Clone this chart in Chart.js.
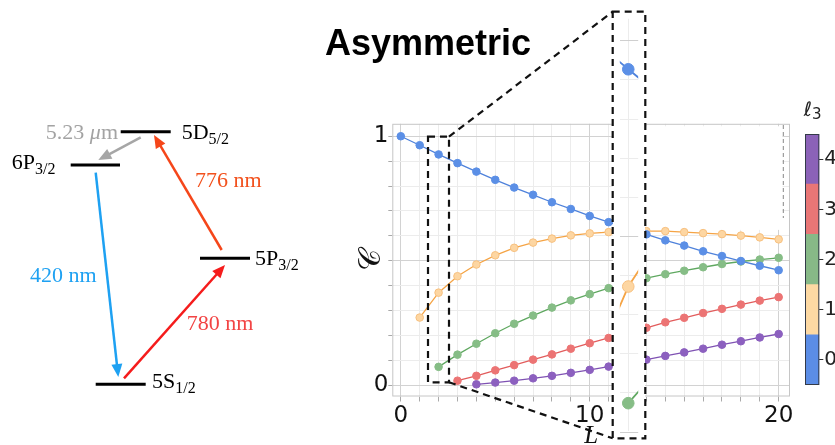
<!DOCTYPE html>
<html>
<head>
<meta charset="utf-8">
<script src="https://cdn.jsdelivr.net/npm/chart.js@4.4.1/dist/chart.umd.min.js"></script>
<style>
html, body { margin: 0; padding: 0; background: #fff; }
body { width: 835px; height: 445px; position: relative; overflow: hidden; }
canvas, svg { position: absolute; }
#mainChart { left: 340px; top: 110px; }
#zoomChart { left: 613px; top: 12px; background: #fff; }
#barChart { left: 800px; top: 121px; }
#overlay { left: 0; top: 0; pointer-events: none; }
</style>
</head>
<body>
<canvas id="mainChart" width="455" height="345"></canvas>
<canvas id="zoomChart" width="32" height="426"></canvas>
<canvas id="barChart" width="60" height="277"></canvas>

<svg id="overlay" width="835" height="445" xmlns="http://www.w3.org/2000/svg">
  <!-- title -->
  <text x="325" y="55" font-family="Liberation Sans" font-weight="bold" font-size="36" fill="#000">Asymmetric</text>

  <!-- level scheme -->
  <g stroke="#000" stroke-width="3">
    <line x1="120.7" y1="131.7" x2="170.7" y2="131.7"/>
    <line x1="70.7" y1="165" x2="120" y2="165"/>
    <line x1="200" y1="258.3" x2="250" y2="258.3"/>
    <line x1="95.7" y1="384.3" x2="145.7" y2="384.3"/>
  </g>
  <g id="arrows"></g>
  <g font-family="Liberation Serif" font-size="22" fill="#000">
    <text x="181.7" y="138.5">5D<tspan font-size="16" dy="5">5/2</tspan></text>
    <text x="11.7" y="168.5">6P<tspan font-size="16" dy="5">3/2</tspan></text>
    <text x="255" y="265">5P<tspan font-size="16" dy="5">3/2</tspan></text>
    <text x="152" y="388">5S<tspan font-size="16" dy="5">1/2</tspan></text>
    <text x="118" y="139" text-anchor="end" fill="#a3a3a3">5.23 <tspan font-style="italic">μ</tspan>m</text>
    <text x="30" y="281.7" fill="#1ea1f2">420 nm</text>
    <text x="186.7" y="330" fill="#f24444">780 nm</text>
    <text x="195" y="187.3" fill="#f2511d">776 nm</text>
  </g>

  <!-- colour bar title -->
  <text x="803.7" y="116" font-family="DejaVu Serif, DejaVu Sans" font-style="italic" font-size="20" fill="#222">ℓ<tspan font-family="DejaVu Sans" font-style="normal" font-size="15" dy="2.5">3</tspan></text>

  <!-- zoom guides -->
  <g stroke="#111" stroke-width="2.2" stroke-dasharray="7 5" fill="none">
    <rect x="428" y="136.7" width="21" height="245.6"/>
    <line x1="449" y1="136.7" x2="612.7" y2="11.7"/>
    <line x1="449" y1="382.3" x2="612.7" y2="438.3"/>
    <rect x="612.7" y="11.7" width="32.6" height="426.6"/>
  </g>
  <line x1="783.3" y1="125" x2="783.3" y2="218" stroke="#888" stroke-width="1" stroke-dasharray="4 3"/>
</svg>

<script>
// --- data ---
const L = [0, 1, 2, 3, 4, 5, 6, 7, 8, 9, 10, 11, 12, 13, 14, 15, 16, 17, 18, 19, 20];
const C_L0 = [1.000, 0.964, 0.927, 0.892, 0.858, 0.825, 0.794, 0.765, 0.735, 0.708, 0.680, 0.655, 0.630, 0.606, 0.582, 0.561, 0.538, 0.519, 0.499, 0.480, 0.462];
const C_L1 = [null, 0.272, 0.372, 0.438, 0.485, 0.522, 0.552, 0.573, 0.589, 0.602, 0.610, 0.615, 0.618, 0.619, 0.619, 0.615, 0.611, 0.607, 0.601, 0.594, 0.586];
const C_L2 = [null, null, 0.074, 0.123, 0.167, 0.209, 0.247, 0.280, 0.312, 0.341, 0.366, 0.390, 0.410, 0.430, 0.446, 0.460, 0.474, 0.487, 0.497, 0.505, 0.512];
const C_L3 = [null, null, null, 0.0185, 0.038, 0.060, 0.081, 0.103, 0.124, 0.147, 0.169, 0.190, 0.210, 0.231, 0.253, 0.271, 0.290, 0.307, 0.324, 0.340, 0.354];
const C_L4 = [null, null, null, null, 0.004, 0.011, 0.0185, 0.028, 0.038, 0.050, 0.062, 0.075, 0.088, 0.103, 0.118, 0.132, 0.147, 0.163, 0.177, 0.192, 0.206];
const ELL3 = [0, 1, 2, 3, 4];

const X_GRID = [0, 1, 2, 3, 4, 5, 6, 7, 8, 9, 10, 11, 12, 13, 14, 15, 16, 17, 18, 19, 20];
const X_LABELS = [0, 10, 20];
const Y_GRID = [0, 0.1, 0.2, 0.3, 0.4, 0.5, 0.6, 0.7, 0.8, 0.9, 1];
const Y_LABELS = [0, 1];
const Y_MAJOR = [0, 0.5, 1];

const LINE_COLORS = ['#4f82db', '#f5a445', '#5fa860', '#e25c5c', '#7f52b3'];
const POINT_COLORS = ['#5b8fe6', '#fdd6a2', '#86bd86', '#ec7474', '#8c60bf'];
const POINT_EDGES = ['#5b8fe6', '#f7c07f', '#86bd86', '#ec7474', '#8c60bf'];
const BAR_COLORS = ['#5b8de6', '#fdd9a3', '#87b987', '#e97676', '#8b62b8'];

const series = [C_L0, C_L1, C_L2, C_L3, C_L4];
const near = (list, v) => list.some(t => Math.abs(t - v) < 1e-6);

function pts(ys) {
    return L.map((x, i) => ({ x: x, y: ys[i] })).filter(p => p.y !== null);
}

function seriesSets(radius, width) {
    return series.map((ys, k) => ({
        label: 'ℓ3 = ' + ELL3[k],
        data: pts(ys),
        showLine: true,
        borderColor: LINE_COLORS[k],
        borderWidth: width,
        pointRadius: radius,
        pointBorderWidth: 1,
        pointBackgroundColor: POINT_COLORS[k],
        pointBorderColor: POINT_EDGES[k],
        tension: 0
    }));
}

// white patch + light frame of the main panel
const framePlugin = {
    id: 'frame',
    beforeDatasetsDraw(chart, args, opts) {
        const { ctx, chartArea: a, scales: { x, y } } = chart;
        ctx.save();
        if (opts.blank) {
            const [x0, x1, y0, y1] = opts.blank;
            const px0 = x.getPixelForValue(x0), px1 = x.getPixelForValue(x1);
            const py0 = y.getPixelForValue(y1), py1 = y.getPixelForValue(y0);
            ctx.fillStyle = '#fff';
            ctx.fillRect(px0, py0, px1 - px0, py1 - py0);
        }
        ctx.strokeStyle = opts.color;
        ctx.lineWidth = 1;
        ctx.strokeRect(a.left + 0.5, a.top + 0.5, a.width - 1, a.height - 1);
        ctx.restore();
    }
};

const tickFont = { family: 'DejaVu Sans', size: 23 };

new Chart(document.getElementById('mainChart'), {
    type: 'scatter',
    data: { datasets: seriesSets(3.8, 1.3) },
    options: {
        responsive: false,
        animation: false,
        events: [],
        layout: { padding: { top: 10.7, right: 4, left: 0, bottom: 0 } },
        plugins: {
            legend: { display: false },
            tooltip: { enabled: false },
            frame: { color: '#c6c6c6', blank: [12.98, 20.2, 0.624, 1.04] }
        },
        scales: {
            x: {
                type: 'linear', min: -0.45, max: 20.6,
                afterBuildTicks: s => { s.ticks = X_GRID.map(v => ({ value: v })); },
                afterFit: s => { s.height = 58.5; },
                ticks: { callback: v => near(X_LABELS, v) ? String(v) : '', font: tickFont, color: '#111', padding: 1, maxRotation: 0, autoSkip: false },
                grid: { color: c => (c.tick && near(X_LABELS, c.tick.value)) ? '#d2d2d2' : '#ececec', tickLength: 5, tickColor: '#aaa' },
                border: { display: false },
                title: { display: true, text: 'L', color: '#111', font: { family: 'Liberation Serif', style: 'italic', size: 25 }, padding: { top: 0, bottom: 3.5 } }
            },
            y: {
                type: 'linear', min: -0.045, max: 1.05,
                afterBuildTicks: s => { s.ticks = Y_GRID.map(v => ({ value: v })); },
                afterFit: s => { s.width = 52.3; },
                ticks: { callback: v => near(Y_LABELS, v) ? String(v) : '', font: tickFont, color: '#111', padding: 0, autoSkip: false },
                grid: { color: c => (c.tick && near(Y_MAJOR, c.tick.value)) ? '#d2d2d2' : '#ececec', tickLength: 4, tickColor: '#aaa' },
                border: { display: false },
                title: { display: true, text: '𝒞', color: '#111', font: { family: 'DejaVu Sans', size: 30 }, padding: { top: 14.5, bottom: 0 } }
            }
        }
    },
    plugins: [framePlugin]
});

// magnified strip around L = 2
new Chart(document.getElementById('zoomChart'), {
    type: 'scatter',
    data: { datasets: seriesSets(5.8, 1.8) },
    options: {
        responsive: false,
        animation: false,
        events: [],
        layout: { padding: 0 },
        plugins: { legend: { display: false }, tooltip: { enabled: false } },
        scales: {
            x: {
                type: 'linear', min: 1.5, max: 2.587,
                afterBuildTicks: s => { s.ticks = [{ value: 2 }]; },
                afterFit: s => { s.height = 0; },
                ticks: { display: false },
                grid: { color: '#ececec', drawTicks: false },
                border: { display: false }
            },
            y: {
                type: 'linear', min: 0.0024, max: 1.056,
                afterBuildTicks: s => { s.ticks = Y_GRID.map(v => ({ value: v })); },
                afterFit: s => { s.width = 0; },
                ticks: { display: false },
                grid: { color: c => (c.tick && near(Y_MAJOR, c.tick.value)) ? '#cfcfcf' : '#ececec', drawTicks: false },
                border: { display: false }
            }
        }
    }
});

// colour bar for l3
const barFrame = {
    id: 'barFrame',
    afterDatasetsDraw(chart) {
        const { ctx, chartArea: a } = chart;
        ctx.save();
        ctx.strokeStyle = '#333a48';
        ctx.lineWidth = 1;
        ctx.strokeRect(a.left + 0.5, a.top + 0.5, a.width - 1, a.height - 1);
        ctx.restore();
    }
};

new Chart(document.getElementById('barChart'), {
    type: 'bar',
    data: {
        labels: ['ℓ3'],
        datasets: ELL3.map((v, k) => ({
            label: String(v),
            data: [[v - 0.5, v + 0.5]],
            backgroundColor: BAR_COLORS[k],
            borderWidth: 0,
            barPercentage: 1,
            categoryPercentage: 1,
            grouped: false
        }))
    },
    options: {
        responsive: false,
        animation: false,
        events: [],
        layout: { padding: { left: 5, top: 0, right: 0, bottom: 0 } },
        plugins: { legend: { display: false }, tooltip: { enabled: false } },
        scales: {
            x: { display: false },
            y: {
                position: 'right', min: -0.5, max: 4.5,
                afterBuildTicks: s => { s.ticks = ELL3.map(v => ({ value: v })); },
                afterFit: s => { s.width = 40.7; },
                ticks: { font: { family: 'DejaVu Sans', size: 20 }, color: '#222', padding: 1 },
                grid: { drawOnChartArea: false, tickLength: 4, tickColor: '#333' },
                border: { display: false }
            }
        }
    },
    plugins: [barFrame]
});

// arrows of the level scheme
function arrow(x1, y1, x2, y2, color) {
    const g = document.getElementById('arrows');
    const ns = 'http://www.w3.org/2000/svg';
    const dx = x2 - x1, dy = y2 - y1, len = Math.hypot(dx, dy);
    const ux = dx / len, uy = dy / len, head = 13, half = 5.5;
    const bx = x2 - ux * head, by = y2 - uy * head;
    const line = document.createElementNS(ns, 'line');
    line.setAttribute('x1', x1); line.setAttribute('y1', y1);
    line.setAttribute('x2', x2 - ux * (head - 2)); line.setAttribute('y2', y2 - uy * (head - 2));
    line.setAttribute('stroke', color); line.setAttribute('stroke-width', 2.5);
    g.appendChild(line);
    const tri = document.createElementNS(ns, 'polygon');
    tri.setAttribute('points', [x2, y2, bx - uy * half, by + ux * half, bx + uy * half, by - ux * half].join(' '));
    tri.setAttribute('fill', color);
    g.appendChild(tri);
}
arrow(140.7, 137.3, 98.3, 160, '#a6a6a6');
arrow(95.7, 172.7, 118.3, 377, '#1ea1f2');
arrow(124, 378.3, 225, 265, '#f51c1c');
arrow(221.7, 250, 154, 135, '#f5461a');
</script>
</body>
</html>
